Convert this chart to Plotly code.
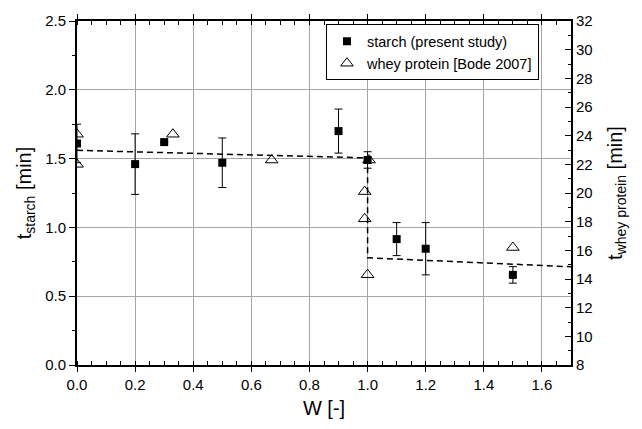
import plotly.graph_objects as go

# starch (present study): W [-], t_starch [min], error
w_starch = [0.0, 0.2, 0.3, 0.5, 0.9, 1.0, 1.1, 1.2, 1.5]
t_starch = [1.61, 1.46, 1.62, 1.47, 1.70, 1.49, 0.915, 0.845, 0.655]
t_starch_err = [0.14, 0.22, 0.0, 0.18, 0.16, 0.06, 0.12, 0.19, 0.06]

# whey protein [Bode 2007]: W [-], t_whey [min]
w_whey = [0.0, 0.0, 0.33, 0.67, 1.005, 0.99, 0.99, 1.0, 1.5]
t_whey = [24.1, 22.0, 24.1, 22.3, 22.3, 20.1, 18.2, 14.3, 16.2]

# dashed trend line (left-axis units)
trend_w = [0.0, 1.0, 1.0, 1.7]
trend_t = [1.56, 1.505, 0.779, 0.714]

FONT = "Liberation Sans, Arial, Helvetica, sans-serif"

fig = go.Figure()

fig.add_trace(go.Scatter(
    x=trend_w, y=trend_t, mode="lines",
    line=dict(color="black", width=1.5, dash="6px,4px"),
    showlegend=False, hoverinfo="skip",
))

fig.add_trace(go.Scatter(
    x=w_starch, y=t_starch, mode="markers",
    name="starch (present study)",
    marker=dict(symbol="square", size=8, color="black"),
    error_y=dict(type="data", array=t_starch_err, visible=True,
                 color="black", thickness=1, width=4),
))

fig.add_trace(go.Scatter(
    x=w_whey, y=t_whey, mode="markers", yaxis="y2",
    name="whey protein [Bode 2007]",
    marker=dict(symbol="triangle-up-open", size=11, color="black",
                line=dict(width=1, color="black")),
))

fig.update_layout(
    width=642, height=429,
    margin=dict(l=76.5, r=70.5, t=15, b=64),
    paper_bgcolor="white", plot_bgcolor="white",
    font=dict(family=FONT, size=15, color="black"),
    xaxis=dict(
        range=[0, 1.7], dtick=0.2, tick0=0, tickformat=".1f",
        showgrid=True, gridcolor="#a6a6a6", gridwidth=1,
        showline=True, linecolor="black", linewidth=2, mirror="ticks",
        ticks="outside", ticklen=5, tickwidth=1.2, tickcolor="black",
        minor=dict(dtick=0.05, ticks="inside", ticklen=4, tickwidth=1,
                   tickcolor="black", showgrid=False),
        zeroline=False,
        title=dict(text="W [-]", font=dict(size=20), standoff=9),
        tickfont=dict(size=15),
    ),
    yaxis=dict(
        range=[0, 2.5], dtick=0.5, tick0=0, tickformat=".1f",
        showgrid=True, gridcolor="#a6a6a6", gridwidth=1,
        showline=True, linecolor="black", linewidth=2,
        ticks="outside", ticklen=6, tickwidth=1.2, tickcolor="black",
        minor=dict(dtick=0.25, ticks="outside", ticklen=3, tickwidth=1,
                   tickcolor="black", showgrid=False),
        zeroline=False,
        title=dict(text="t<sub>starch</sub> [min]", font=dict(size=20), standoff=8),
        tickfont=dict(size=15),
    ),
    yaxis2=dict(
        range=[8, 32], dtick=2, tick0=8, overlaying="y", side="right",
        showgrid=False,
        showline=True, linecolor="black", linewidth=2,
        ticks="inside", ticklen=6, tickwidth=1.2, tickcolor="black",
        minor=dict(dtick=1, ticks="inside", ticklen=3, tickwidth=1,
                   tickcolor="black"),
        zeroline=False,
        title=dict(text="t<sub>whey protein</sub> [min]", font=dict(size=20), standoff=16),
        tickfont=dict(size=15),
    ),
    legend=dict(
        x=0.504, y=0.99, xanchor="left", yanchor="top",
        bgcolor="white", bordercolor="black", borderwidth=1,
        font=dict(size=14.5), tracegroupgap=0,
    ),
)

fig.write_html("out.html")
